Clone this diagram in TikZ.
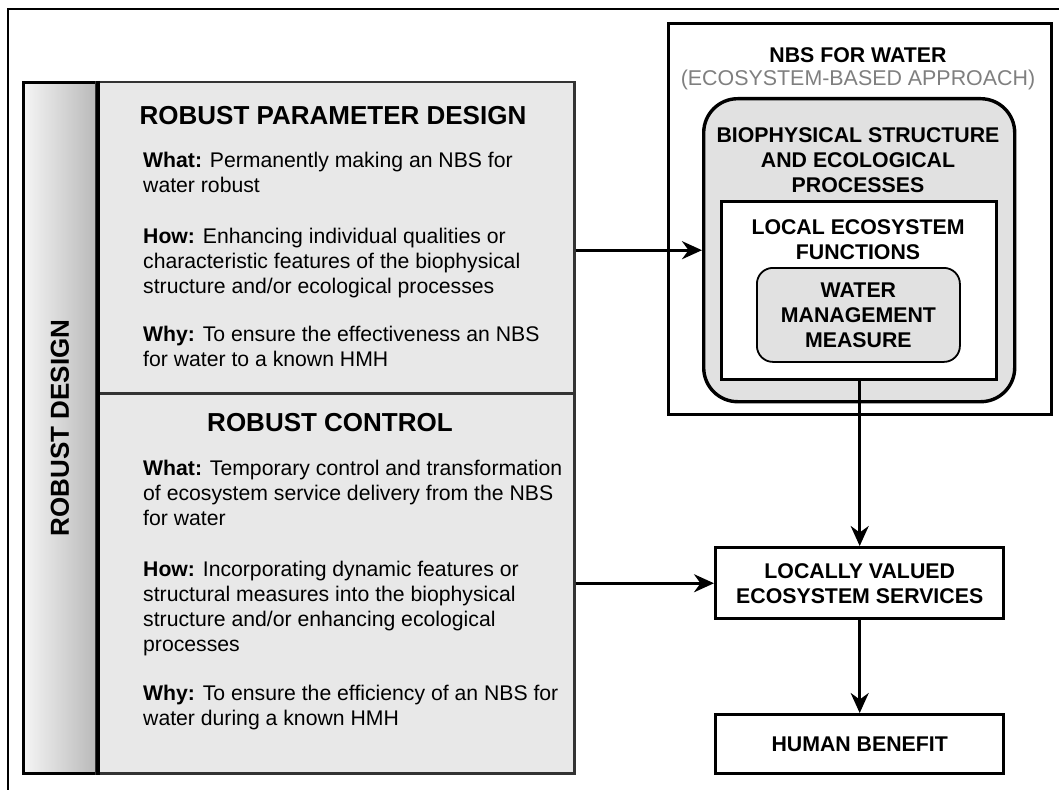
\documentclass[tikz,border=0pt]{standalone}
\usepackage{fontspec}
\setmainfont{Liberation Sans}
\usetikzlibrary{positioning, arrows.meta}
\definecolor{panelgray}{HTML}{E8E8E8}
\definecolor{boxgray}{HTML}{E1E1E1}
\definecolor{subgray}{HTML}{7F7F7F}
\tikzset{
    panel/.style={draw=black!80, line width=2.5pt, fill=panelgray, anchor=north west},
    sketch/.style={draw, line width=3.4pt, anchor=north west},
    body/.style={font=\fontsize{21.2}{25}\selectfont, align=left, anchor=base west, inner sep=0pt},
    head/.style={font=\fontsize{26}{30}\selectfont\bfseries, inner sep=0pt},
    label/.style={font=\fontsize{21.3}{25}\selectfont\bfseries, align=center, inner sep=0pt},
    flow/.style={-{Stealth[length=20pt,width=18pt]}, line width=2.8pt}
}

\begin{document}
\begin{tikzpicture}[x=1pt, y=-1pt]
	\useasboundingbox (0,0) rectangle (1059,789);
	\draw[line width=1.4pt] (8,800) -- (8,9) -- (1070,9);

	% left block (body nodes sit on the baseline of their last line)
	\node[draw, line width=3pt, anchor=north west, left color=gray!8, right color=gray!55,
	      minimum width=73pt, minimum height=691pt] (side) at (22,81) {};
	\node[head, rotate=90] (sidetext) at (side.center) {ROBUST DESIGN};
	\node[panel, minimum width=478pt, minimum height=311pt] (rpd) at (95,81) {};
	\node[panel, minimum width=478pt, minimum height=380pt] (rc) at (95,392) {};
	\draw[line width=3.5pt] (side.north east) -- (side.south east);

	\node[head] (rpdhead) at (333,116) {ROBUST PARAMETER DESIGN};
	\node[body] (rpdwhat) at (143,192) {\textbf{What:} Permanently making an NBS for\\water robust};
	\node[body] (rpdhow) at (143,293) {\textbf{How:} Enhancing individual qualities or\\characteristic features of the biophysical\\structure and/or ecological processes};
	\node[body] (rpdwhy) at (143,366) {\textbf{Why:} To ensure the effectiveness an NBS\\for water to a known HMH};

	\node[head] (rchead) at (330,423) {ROBUST CONTROL};
	\node[body] (rcwhat) at (143,525) {\textbf{What:} Temporary control and transformation\\of ecosystem service delivery from the NBS\\for water};
	\node[body] (rchow) at (143,651) {\textbf{How:} Incorporating dynamic features or\\structural measures into the biophysical\\structure and/or enhancing ecological\\processes};
	\node[body] (rcwhy) at (143,725) {\textbf{Why:} To ensure the efficiency of an NBS for\\water during a known HMH};

	% right block
	\node[sketch, minimum width=383pt, minimum height=391pt] (nbs) at (667,22) {};
	\node[label] (nbstitle) at (858,55) {NBS FOR WATER};
	\node[label, font=\fontsize{21.4}{25}\selectfont, text=subgray] (nbssub) at (858,80) {(ECOSYSTEM-BASED APPROACH)};

	\node[sketch, fill=boxgray, rounded corners=34pt, minimum width=311pt, minimum height=303pt] (bio) at (702,97) {};
	\node[label] (biotext) at (858,160) {BIOPHYSICAL STRUCTURE\\AND ECOLOGICAL\\PROCESSES};

	\node[sketch, fill=white, minimum width=275pt, minimum height=178pt] (lef) at (720,200) {};
	\node[label] (leftext) at (858,240) {LOCAL ECOSYSTEM\\FUNCTIONS};

	\node[draw, line width=1.8pt, fill=boxgray, rounded corners=16pt, anchor=north west,
	      minimum width=203pt, minimum height=94pt, label] (wmm) at (756,267) {WATER\\MANAGEMENT\\MEASURE};

	\node[sketch, minimum width=288pt, minimum height=71pt, label] (lves) at (714,546) {LOCALLY VALUED\\ECOSYSTEM SERVICES};
	\node[sketch, minimum width=288pt, minimum height=59pt, label] (hb) at (714,713) {HUMAN BENEFIT};

	% connectors
	\draw[flow] (rpd.east |- bio.west) -- (bio.west);
	\draw[flow] (rc.east) -- (rc.east -| lves.west);
	\draw[flow] (lef.south -| lves.north) -- (lves.north);
	\draw[flow] (lves.south) -- (hb.north);
\end{tikzpicture}
\end{document}
